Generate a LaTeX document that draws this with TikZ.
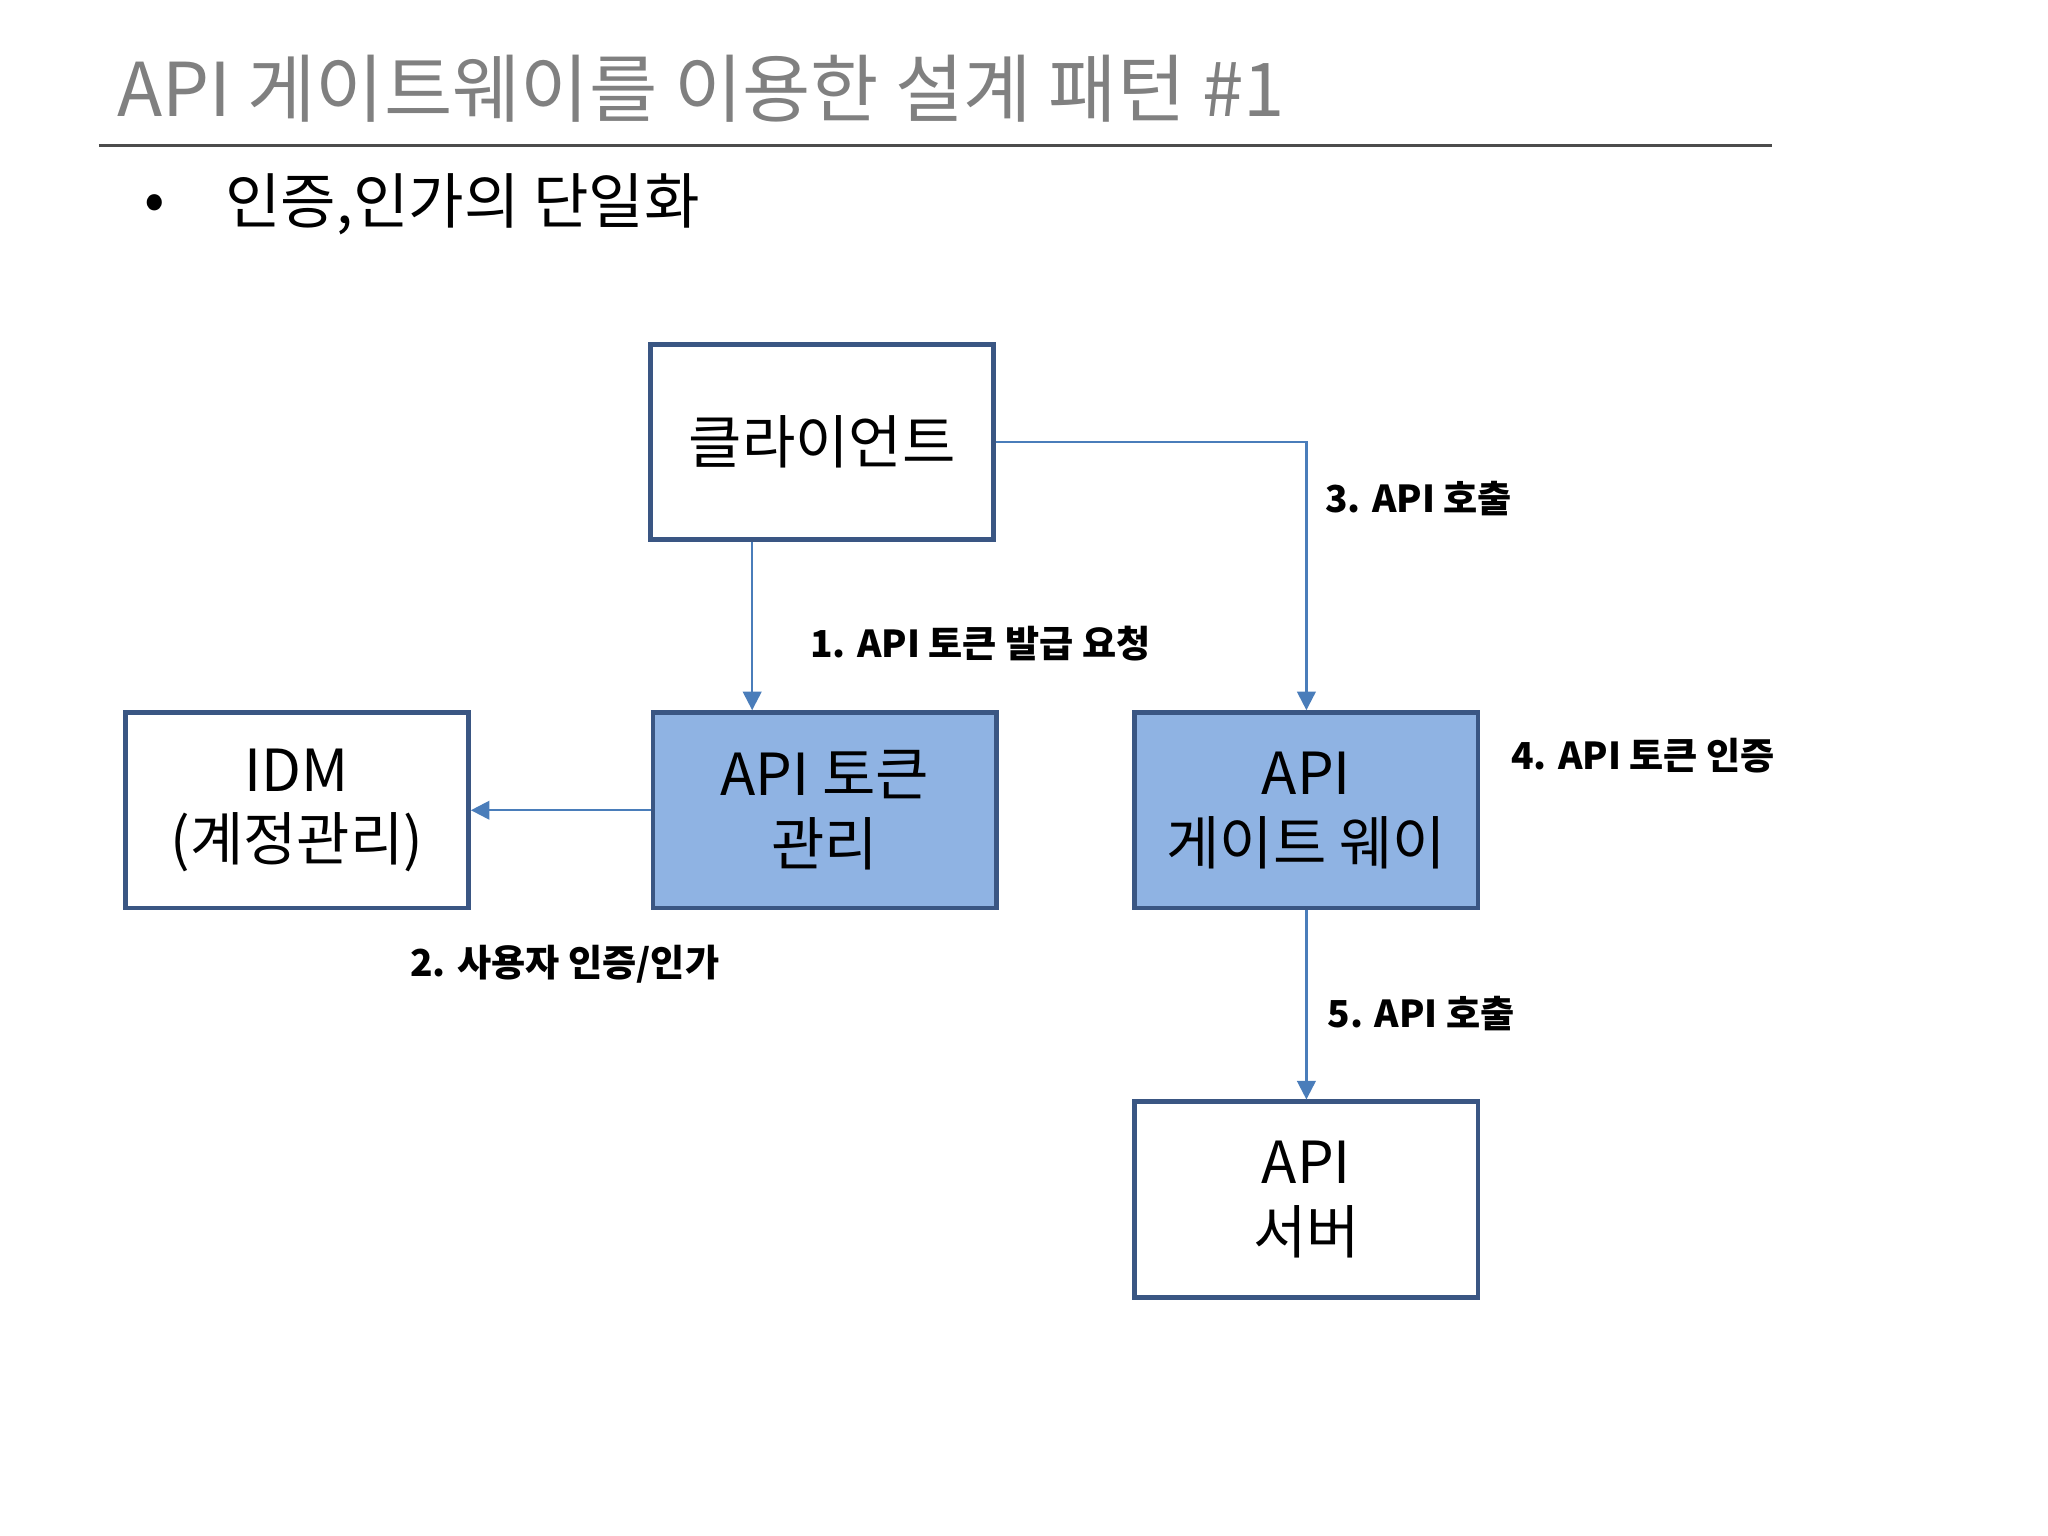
\documentclass[tikz,border=0pt]{standalone}
\usepackage{fontspec}
\setmainfont{Noto Sans CJK KR}
\usetikzlibrary{arrows.meta}
\definecolor{bord}{HTML}{3A5683}
\definecolor{fillb}{HTML}{8FB3E3}
\definecolor{arr}{HTML}{4A7DBA}
\tikzset{
 box/.style={draw=bord,line width=1.0pt,minimum width=2.6cm,minimum height=1.48cm,align=center,font=\fontsize{12.5}{15}\selectfont,inner sep=0pt},
 bbox/.style={box,fill=fillb},
 wbox/.style={box,fill=white},
 con/.style={draw=arr,line width=0.5pt,-{Triangle[width=4pt,length=4pt]}},
 lab/.style={font=\fontsize{8}{10}\selectfont\bfseries,inner sep=0pt}
}
\begin{document}
\begin{tikzpicture}[x=0.01cm,y=-0.01cm]
\useasboundingbox (0,0) rectangle (1552,1164);
\node[anchor=west,text=gray,font=\fontsize{16}{19}\selectfont,inner sep=0pt] (title) at (88,67) {API 게이트웨이를 이용한 설계 패턴 \#1};
\draw[line width=0.7pt,draw=black!70] (75,110) -- (1343,110);
\node[font=\fontsize{13}{15}\selectfont,inner sep=0pt] (bul) at (117,157) {•};
\node[anchor=west,font=\fontsize{13}{15}\selectfont,inner sep=0pt] (sub) at (170,155) {인증,인가의 단일화};
\node[wbox] (cli) at (623,335) {클라이언트};
\node[wbox] (idm) at (225,614) {IDM\\(계정관리)};
\node[bbox] (tok) at (625,614) {API 토큰\\관리};
\node[bbox] (gw) at (990,614) {API\\게이트 웨이};
\node[wbox] (srv) at (990,909) {API\\서버};
\draw[con] (cli.south -| 570,0) -- (tok.north -| 570,0);
\draw[con] (cli.east) -| (gw.north);
\draw[con] (tok.west) -- (idm.east);
\draw[con] (gw.south) -- (srv.north);
\node[lab] (l1) at (743,488) {1. API 토큰 발급 요청};
\node[lab] (l2) at (428,731) {2. 사용자 인증/인가};
\node[lab] (l3) at (1075,378) {3. API 호출};
\node[lab] (l4) at (1245,573) {4. API 토큰 인증};
\node[lab] (l5) at (1077,768) {5. API 호출};
\end{tikzpicture}
\end{document}
